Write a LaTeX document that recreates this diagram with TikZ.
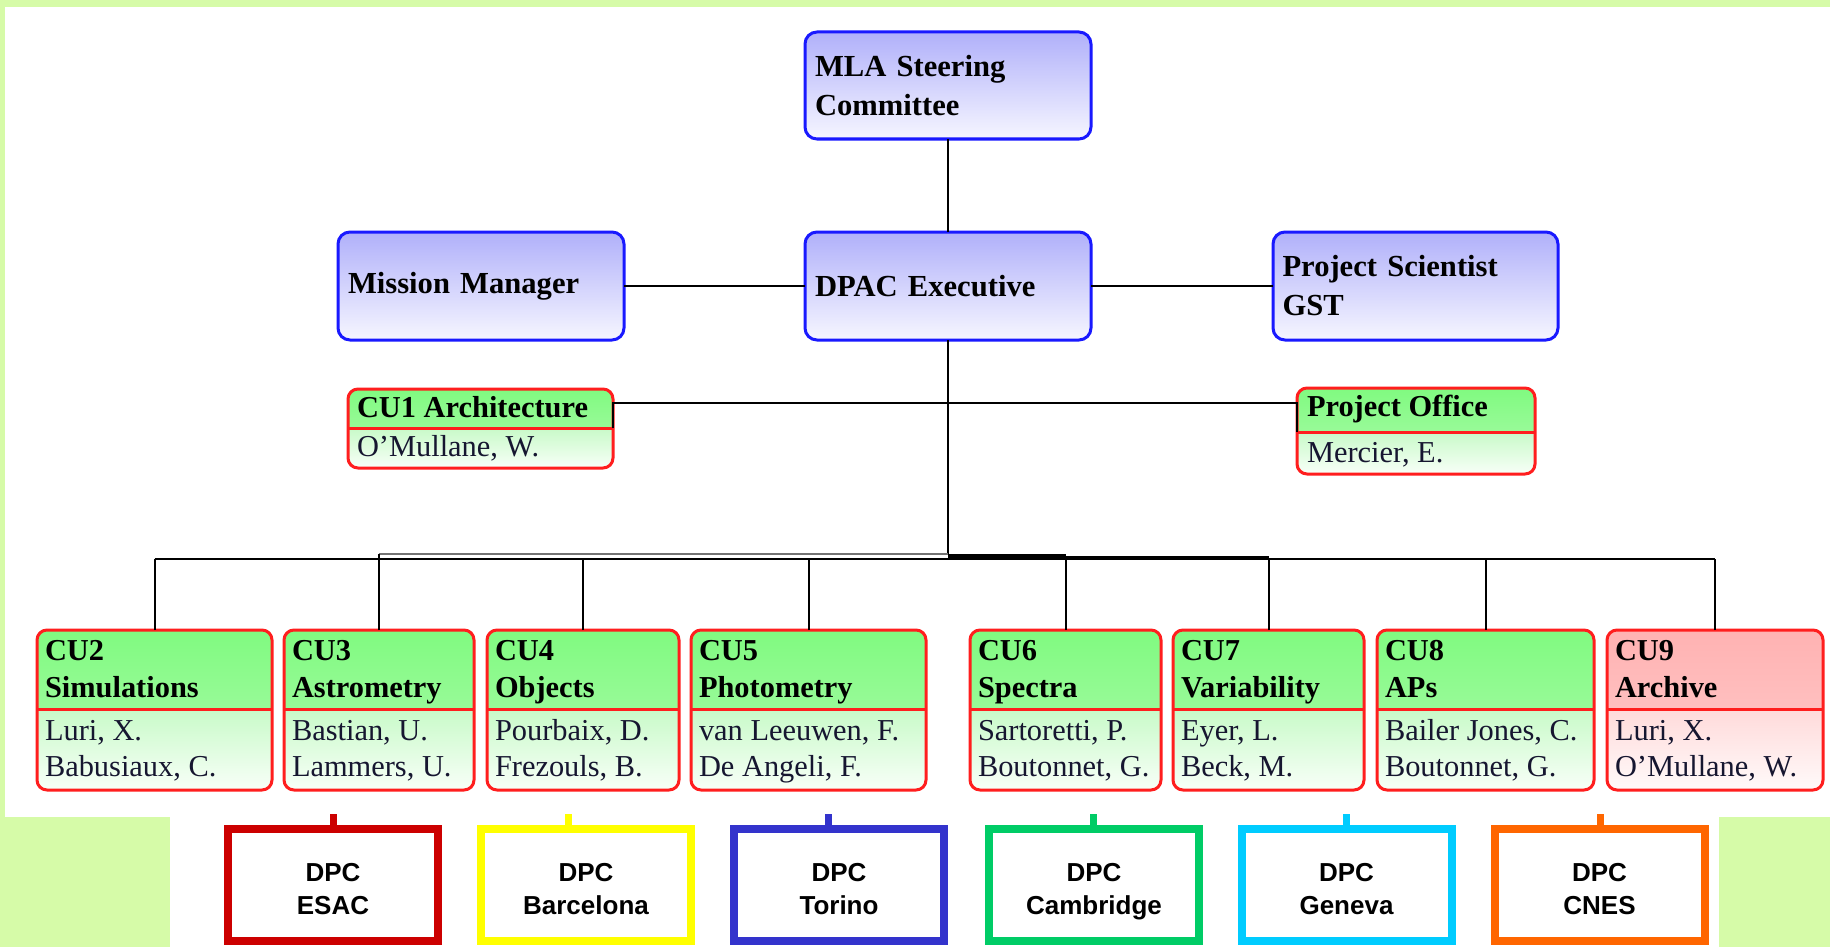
\documentclass[tikz,border=0pt]{standalone}
\usepackage{fontspec}
\setmainfont{Liberation Serif}
\newfontfamily\dpcfont{Liberation Sans}
\definecolor{bggreen}{RGB}{214,251,168}
\definecolor{tbtop}{RGB}{176,176,250}
\definecolor{tbbot}{RGB}{246,246,255}
\definecolor{tbblue}{RGB}{25,25,255}
\definecolor{gHt}{RGB}{128,250,128}
\definecolor{gHb}{RGB}{176,250,176}
\definecolor{gBt}{RGB}{200,250,200}
\definecolor{gBb}{RGB}{248,255,248}
\definecolor{pHt}{RGB}{255,178,178}
\definecolor{pHb}{RGB}{255,205,205}
\definecolor{pBt}{RGB}{255,218,218}
\definecolor{pBb}{RGB}{255,250,250}
\definecolor{cured}{RGB}{255,30,30}
\definecolor{nametext}{RGB}{22,22,48}
\definecolor{dpcred}{RGB}{204,0,0}
\definecolor{dpcyellow}{RGB}{255,255,0}
\definecolor{dpcblue}{RGB}{51,51,204}
\definecolor{dpcgreen}{RGB}{0,204,102}
\definecolor{dpccyan}{RGB}{0,204,255}
\definecolor{dpcorange}{RGB}{255,102,0}
\tikzset{
  head/.store in=\cuhead, head=39.5pt,
  htop/.store in=\cuhtop, htop=gHt,
  hbot/.store in=\cuhbot, hbot=gHb,
  btop/.store in=\cubtop, btop=gBt,
  bbot/.store in=\cubbot, bbot=gBb,
}
\begin{document}
\begin{tikzpicture}[x=0.5pt,y=-0.5pt,
  conn/.style={draw=black, line width=1pt},
  topbox/.style={draw=tbblue, line width=1.5pt, rounded corners=6pt,
    top color=tbtop, bottom color=tbbot, inner sep=0pt, outer sep=0pt,
    minimum height=54pt, text width=133pt, align=left,
    font=\bfseries\fontsize{15.3}{19.5}\selectfont},
  cubox/.style={draw=cured, line width=1.5pt, rounded corners=5pt,
    inner sep=0pt, outer sep=0pt, minimum height=80pt,
    path picture={
      \shade[sharp corners, top color=\cuhtop, bottom color=\cuhbot]
        (path picture bounding box.north west) rectangle
        ([yshift=-\cuhead]path picture bounding box.north east);
      \shade[sharp corners, top color=\cubtop, bottom color=\cubbot]
        ([yshift=-\cuhead]path picture bounding box.north west) rectangle
        (path picture bounding box.south east);
      \draw[sharp corners, cured, line width=1.5pt]
        ([yshift=-\cuhead]path picture bounding box.north west) --
        ([yshift=-\cuhead]path picture bounding box.north east);
    }},
  pinkpal/.style={htop=pHt, hbot=pHb, btop=pBt, bbot=pBb},
  cutext/.style={inner sep=0pt, outer sep=0pt, anchor=base west,
    text=nametext, font=\fontsize{15.2}{18}\selectfont},
  cuhd/.style={cutext, text=black, font=\bfseries\fontsize{15.2}{18}\selectfont},
  dpcbox/.style={draw=#1, line width=4pt, fill=white, inner sep=0pt,
    minimum width=105pt, minimum height=56pt},
  dpctxt/.style={inner sep=0pt, align=center,
    font=\dpcfont\bfseries\fontsize{13}{16.5}\selectfont},
  dpctick/.style={draw=#1, line width=3.5pt}
]
\useasboundingbox (0,0) rectangle (1830,947);
% background
\fill[bggreen] (0,0) rectangle (1830,947);
\fill[white] (5,7) rectangle (1830,817);
\fill[white] (170,816) rectangle (1719,947);

% top boxes
\node[topbox, minimum width=143pt, minimum height=53.5pt] (mla) at (948,85.5) {MLA Steering\\Committee};
\node[topbox, minimum width=143pt] (dpac) at (948,286) {DPAC Executive};
\node[topbox, minimum width=143pt] (mm) at (481,286) {Mission Manager};
\node[topbox, minimum width=142.5pt] (ps) at (1415.5,286) {Project Scientist\\GST};

% CU1 and project office
\node[cubox, head=19.5pt, minimum width=132.5pt, minimum height=39.5pt] (cu1) at (480.5,428.5) {};
\node[cubox, head=22pt, minimum width=119pt, minimum height=43pt] (po) at (1416,431) {};
\node[cuhd] (cu1-1) at ([xshift=4.5pt,yshift=-14pt]cu1.north west) {CU1 Architecture};
\node[cutext] (cu1-2) at ([xshift=4.5pt,yshift=-33.5pt]cu1.north west) {O’Mullane, W.};
\node[cuhd] (po-1) at ([xshift=5pt,yshift=-14pt]po.north west) {Project Office};
\node[cutext] (po-2) at ([xshift=5pt,yshift=-37pt]po.north west) {Mercier, E.};

% CU2-CU9
\node[cubox, minimum width=117.5pt] (cu2) at (154.5,710) {};
\node[cubox, minimum width=95pt] (cu3) at (379,710) {};
\node[cubox, minimum width=96pt] (cu4) at (583,710) {};
\node[cubox, minimum width=117.5pt] (cu5) at (808.5,710) {};
\node[cubox, minimum width=95.5pt] (cu6) at (1065.5,710) {};
\node[cubox, minimum width=95.5pt] (cu7) at (1268.5,710) {};
\node[cubox, minimum width=108.5pt] (cu8) at (1485.5,710) {};
\node[cubox, pinkpal, minimum width=108pt] (cu9) at (1715,710) {};

\foreach \n/\a/\b/\c/\d in {
  cu2/CU2/Simulations/{Luri, X.}/{Babusiaux, C.},
  cu3/CU3/Astrometry/{Bastian, U.}/{Lammers, U.},
  cu4/CU4/Objects/{Pourbaix, D.}/{Frezouls, B.},
  cu5/CU5/Photometry/{van Leeuwen, F.}/{De Angeli, F.},
  cu6/CU6/Spectra/{Sartoretti, P.}/{Boutonnet, G.},
  cu7/CU7/Variability/{Eyer, L.}/{Beck, M.},
  cu8/CU8/APs/{Bailer Jones, C.}/{Boutonnet, G.},
  cu9/CU9/Archive/{Luri, X.}/{O’Mullane, W.}}{
  \node[cuhd] (\n-1) at ([xshift=4pt,yshift=-15pt]\n.north west) {\a};
  \node[cuhd] (\n-2) at ([xshift=4pt,yshift=-33.5pt]\n.north west) {\b};
  \node[cutext] (\n-3) at ([xshift=4pt,yshift=-55pt]\n.north west) {\c};
  \node[cutext] (\n-4) at ([xshift=4pt,yshift=-73pt]\n.north west) {\d};
}

% connectors
\coordinate (bus) at (948,559);
\coordinate (busU) at (948,554);
\coordinate (busT) at (948,556.5);
\draw[conn] (mla.south) -- (dpac.north);
\draw[conn] (mm.east) -- (dpac.west);
\draw[conn] (dpac.east) -- (ps.west);
\draw[conn] (dpac.south) -- (busU);
\draw[conn] (cu1.east |- 0,428) -- (cu1.east |- 0,403) -- (po.west |- 0,403) -- (po.west |- 0,432);
\draw[conn, line width=1.3pt] (cu2.north |- bus) -- (cu9.north |- bus);
\draw[conn, draw=black!55, line width=1.3pt] (cu3.north |- busU) -- (busU);
\draw[conn, line width=2.4pt] (busT) -- (cu6.north |- busT);
\draw[conn, line width=2pt] (cu6.north |- 0,558) -- (cu7.north |- 0,558);
\draw[conn] (cu2.north) -- (cu2.north |- bus);
\draw[conn] (cu3.north) -- (cu3.north |- busU);
\foreach \n in {cu4,cu5,cu6,cu7,cu8,cu9}{
  \draw[conn] (\n.north) -- (\n.north |- bus);
}

% DPC boxes
\node[dpcbox=dpcred] (esac) at (333,885) {};
\node[dpcbox=dpcyellow] (bcn) at (586,885) {};
\node[dpcbox=dpcblue] (tor) at (839,885) {};
\node[dpcbox=dpcgreen] (cam) at (1094,885) {};
\node[dpcbox=dpccyan] (gen) at (1346.5,885) {};
\node[dpcbox=dpcorange] (cnes) at (1599.5,885) {};
\foreach \n/\t in {esac/ESAC, bcn/Barcelona, tor/Torino, cam/Cambridge, gen/Geneva, cnes/CNES}{
  \node[dpctxt] (\n-l) at ([yshift=-3.3pt]\n.center) {\strut DPC\\\t\strut};
}
\coordinate (esac-t) at (333.5,814);
\coordinate (bcn-t) at (568.5,814);
\coordinate (tor-t) at (828.5,814);
\coordinate (cam-t) at (1093.5,814);
\coordinate (gen-t) at (1346.5,814);
\coordinate (cnes-t) at (1600.5,814);
\draw[dpctick=dpcred] (esac-t) -- (esac-t |- esac.north);
\draw[dpctick=dpcyellow] (bcn-t) -- (bcn-t |- bcn.north);
\draw[dpctick=dpcblue] (tor-t) -- (tor-t |- tor.north);
\draw[dpctick=dpcgreen] (cam-t) -- (cam-t |- cam.north);
\draw[dpctick=dpccyan] (gen-t) -- (gen-t |- gen.north);
\draw[dpctick=dpcorange] (cnes-t) -- (cnes-t |- cnes.north);
\end{tikzpicture}
\end{document}
